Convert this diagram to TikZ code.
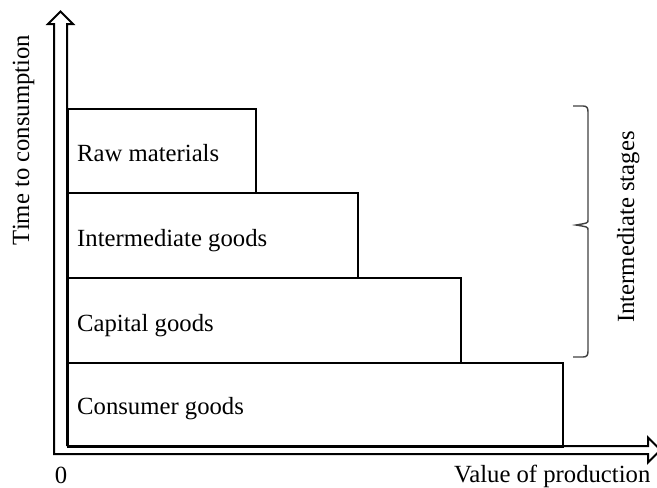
\documentclass[tikz,border=0pt]{standalone}
\usepackage{fontspec}
\setmainfont{Liberation Serif}
\begin{document}
\begin{tikzpicture}[x=1pt,y=-1pt,
  stagebox/.style={draw=black,line width=2.4pt,rectangle,inner sep=0pt,anchor=north west},
  lbl/.style={font=\fontsize{24.7}{29}\selectfont,inner sep=0pt,text=black},
  axisline/.style={draw=black,line width=2pt,line join=miter},
  bracestyle/.style={draw=black!75,line width=1.4pt}]
\useasboundingbox (0,0) rectangle (657,488);
% stage boxes
\node[stagebox,minimum width=188pt,minimum height=84pt] (raw) at (67,108) {};
\node[stagebox,minimum width=290pt,minimum height=85pt] (inter) at (67,192) {};
\node[stagebox,minimum width=393pt,minimum height=85pt] (cap) at (67,277) {};
\node[stagebox,minimum width=495pt,minimum height=84pt] (cons) at (67,362) {};
% labels
\node[lbl,anchor=base west] (tRaw) at (77,161) {Raw materials};
\node[lbl,anchor=base west] (tInter) at (77,246) {Intermediate goods};
\node[lbl,anchor=base west] (tCap) at (77,331) {Capital goods};
\node[lbl,anchor=base west] (tCons) at (77,414) {Consumer goods};
% axes (double-line arrows)
\coordinate (o) at (54,454);
\draw[axisline] (67,446) -- (67,24) -- (73,24) -- (60.5,11.5) -- (48,24) -- (54,24) -- (o) -- (648,454) -- (648,462.5) -- (660.5,450) -- (648,437.5) -- (648,446) -- (67,446);
% axis labels
\node[lbl,anchor=base] (zero) at (61,483) {0};
\node[lbl,anchor=base west] (xlab) at (454,482) {Value of production};
\node[lbl,anchor=base,rotate=90] (ylab) at (29,140) {Time to consumption};
% brace
\draw[bracestyle] (573,106) -- (583,106) .. controls (587,106) and (588,108) .. (588,112)
  -- (588,220) .. controls (588,223) .. (576,225) .. controls (588,227) .. (588,230)
  -- (588,351) .. controls (588,355) and (587,357) .. (583,357) -- (573,357);
\node[lbl,anchor=base,rotate=90] (stages) at (634,227) {Intermediate stages};
\end{tikzpicture}
\end{document}
